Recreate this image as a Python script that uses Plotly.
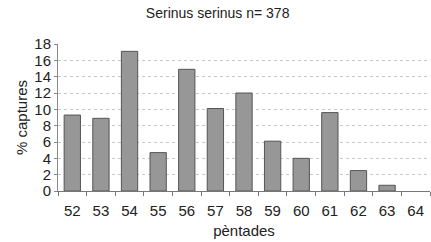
import plotly.graph_objects as go

categories = ["52", "53", "54", "55", "56", "57", "58", "59", "60", "61", "62", "63", "64"]
values = [9.3, 8.9, 17.1, 4.7, 14.9, 10.1, 12.0, 6.1, 4.0, 9.6, 2.5, 0.7, 0.0]

fig = go.Figure(go.Bar(
    x=categories, y=values,
    marker=dict(color="#979797",
                line=dict(color="#555555", width=[1 if v > 0 else 0 for v in values])),
))

fig.update_layout(
    width=431, height=242,
    margin=dict(l=58, r=1, t=44, b=51),
    paper_bgcolor="white", plot_bgcolor="white",
    bargap=0.43,
    showlegend=False,
    font=dict(family="Liberation Sans, Arial", size=15, color="#222222"),
    title=dict(text="Serinus serinus n= 378", x=0.505, xanchor="center", y=0.945, yanchor="middle",
               font=dict(size=14, color="#222222")),
)
fig.update_xaxes(
    type="category", tickson="boundaries", ticks="outside", ticklen=4, tickcolor="#777777",
    showline=True, linecolor="#777777", linewidth=1, showgrid=False, automargin=False,
    tickfont=dict(size=15), ticklabelstandoff=6,
    title=dict(text="pèntades", font=dict(size=15), standoff=7),
)
fig.update_yaxes(
    range=[0, 18], dtick=2, showgrid=True, gridcolor="#c8c8c8", griddash="dot", gridwidth=1,
    showline=True, linecolor="#888888", linewidth=1, ticks="outside", ticklen=3, tickcolor="#888888",
    zeroline=False, automargin=False,
    tickfont=dict(size=15),
    title=dict(text="% captures", font=dict(size=15), standoff=3),
)

fig.write_html("out.html", config={"displayModeBar": False},
               post_script="document.body.style.margin='0';")
